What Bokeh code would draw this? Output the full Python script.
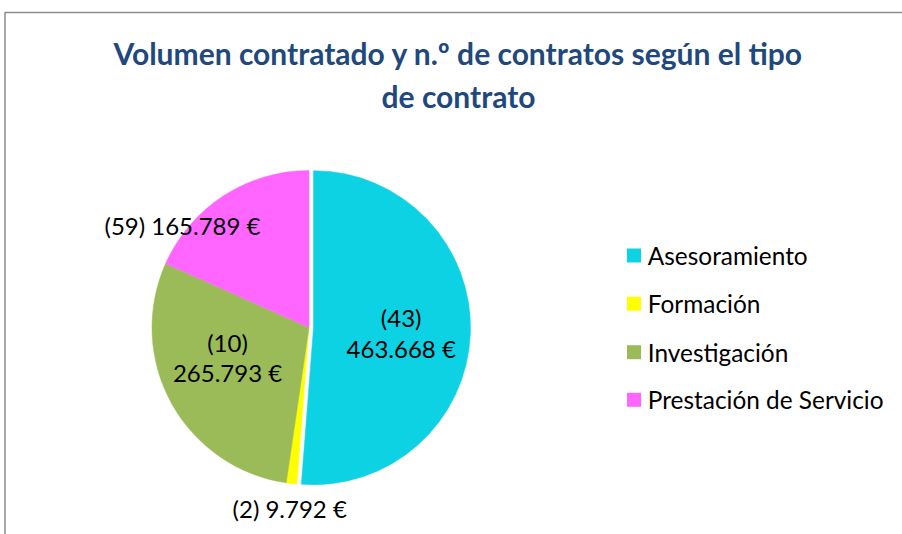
import numpy as np
from bokeh.plotting import figure
from bokeh.models import Range1d, ColumnDataSource
from bokeh.core.properties import value
from bokeh.embed import file_html
from bokeh.resources import INLINE

# ---- data ----
categories = ["Asesoramiento", "Formación", "Investigación", "Prestación de Servicio"]
contracts = [43, 2, 10, 59]
amounts = [463668, 9792, 265793, 165789]
colors = ["#0DD2E4", "#FFFF00", "#9BBB59", "#FF66FF"]
title_lines = ["Volumen contratado y n.º de contratos según el tipo", "de contrato"]

# ---- layout (pixel-like data space) ----
W, H = 902, 534
FONT = "Lato"
cx, cy, R = 308.5, 207.0, 157.0
explode = [4.5, 0.0, 0.0, 0.0]

def eur(v):
    return f"{v:,}".replace(",", ".") + " €"

p = figure(width=W, height=H, output_backend="svg", toolbar_location=None,
           x_range=Range1d(0, W), y_range=Range1d(0, H),
           min_border=0, outline_line_color=None)
p.axis.visible = False
p.grid.visible = False

# frame
p.line([4.5, 4.5, W + 5], [-5, 522, 522], line_color="#8C8C8C", line_width=1.5)

# pie
vals = np.array(amounts, dtype=float)
frac = vals / vals.sum()
ends = np.pi / 2 - 2 * np.pi * np.cumsum(frac)
starts = np.concatenate([[np.pi / 2], ends[:-1]])
mids = (starts + ends) / 2
xs = cx + np.array(explode) * np.cos(mids)
ys = cy + np.array(explode) * np.sin(mids)
src = ColumnDataSource(dict(x=xs, y=ys, s=starts, e=ends, c=colors))
p.wedge(x="x", y="y", radius=R, start_angle="s", end_angle="e", direction="clock",
        fill_color="c", line_color="c", line_width=0.5, source=src)

# data labels (positions are layout constants)
inside_idx = [0, 2]
inside_pos = [(400.7, 217.3, 185.7), (227.0, 192.3, 162.3)]
l1x, l1y, l1t, l2y, l2t = [], [], [], [], []
for i, (lx, y1, y2) in zip(inside_idx, inside_pos):
    l1x.append(lx); l1y.append(y1); l1t.append(f"({contracts[i]})")
    l2y.append(y2); l2t.append(eur(amounts[i]))
p.text(x=l1x, y=l1y, text=l1t, text_align="center", text_baseline="middle",
       text_font=value(FONT), text_font_size="24px", text_color="#000000")
p.text(x=l1x, y=l2y, text=l2t, text_align="center", text_baseline="middle",
       text_font=value(FONT), text_font_size="24px", text_color="#000000")

outside_idx = [3, 1]
outside_pos = [(182.0, 309.5), (289.2, 26.0)]
p.text(x=[q[0] for q in outside_pos], y=[q[1] for q in outside_pos],
       text=[f"({contracts[i]}) {eur(amounts[i])}" for i in outside_idx],
       text_align="center", text_baseline="middle",
       text_font=value(FONT), text_font_size="24px", text_color="#000000")

# legend
leg_y = [279.0, 230.7, 182.3, 134.7]
p.scatter(x=[633.5] * 4, y=leg_y, marker="square", size=14, fill_color=colors,
          line_color=None)
p.text(x=[647.3] * 4, y=leg_y, text=categories, text_align="left",
       text_baseline="middle", text_font=value(FONT), text_font_size="24.4px",
       text_color="#000000")

# title
p.text(x=[458, 458], y=[482, 439], text=title_lines, text_align="center",
       text_baseline="middle", text_font=value(FONT), text_font_size="30px",
       text_font_style="bold", text_color="#1F497D")

open("out.html", "w").write(file_html(p, INLINE))
